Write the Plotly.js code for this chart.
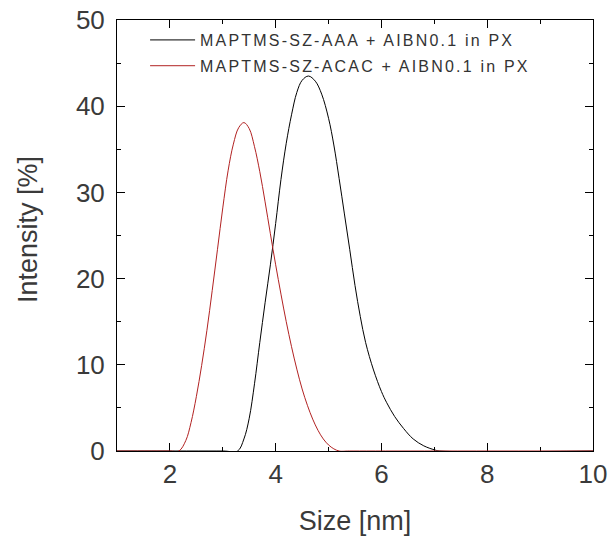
<!DOCTYPE html>
<html><head><meta charset="utf-8">
<script src="https://cdn.plot.ly/plotly-3.0.1.min.js"></script>
<style>body{margin:0;background:#fff}#c{width:611px;height:537px}
#c .legendtext{letter-spacing:2.2px}</style>
</head><body><div id="c"></div>
<script>
const names = ["MAPTMS-SZ-AAA + AIBN0.1 in PX", "MAPTMS-SZ-ACAC + AIBN0.1 in PX"];
const sizeAAA = [1.0, 3.0, 3.28, 3.40, 3.50, 3.60, 3.70, 3.80, 3.90, 4.00, 4.10, 4.20, 4.30, 4.40, 4.50, 4.62, 4.75, 4.87, 5.00, 5.10, 5.20, 5.30, 5.40, 5.50, 5.60, 5.70, 5.85, 6.00, 6.10, 6.25, 6.42, 6.60, 6.80, 7.02, 7.10, 10.0];
const intAAA  = [0.0, 0.0, 0.0, 1.4, 3.8, 7.8, 12.6, 17.2, 21.6, 26.4, 31.5, 35.7, 39.0, 41.6, 43.0, 43.5, 42.9, 41.4, 38.6, 35.5, 31.6, 27.5, 23.4, 19.2, 15.6, 12.6, 9.4, 6.9, 5.6, 4.0, 2.6, 1.4, 0.6, 0.1, 0.0, 0.0];
const sizeACAC = [1.0, 2.0, 2.17, 2.30, 2.40, 2.50, 2.60, 2.70, 2.80, 2.90, 3.00, 3.10, 3.20, 3.30, 3.40, 3.50, 3.60, 3.70, 3.80, 3.90, 4.00, 4.10, 4.20, 4.30, 4.40, 4.50, 4.60, 4.70, 4.80, 4.90, 5.00, 5.10, 5.20, 5.40, 10.0];
const intACAC  = [0.0, 0.0, 0.0, 1.2, 3.3, 6.3, 9.9, 14.0, 18.6, 23.4, 28.2, 32.5, 35.6, 37.5, 38.1, 37.4, 35.3, 32.4, 28.9, 25.2, 21.6, 18.2, 15.0, 12.1, 9.5, 7.2, 5.3, 3.7, 2.4, 1.4, 0.7, 0.25, 0.0, 0.0, 0.0];
const xTicks = [2, 4, 6, 8, 10];
const yTicks = [0, 10, 20, 30, 40, 50];
const xTitle = "Size [nm]";
const yTitle = "Intensity [%]";

const FONT = "Liberation Sans, Arial, sans-serif";
const traces = [
  {x: sizeAAA, y: intAAA, name: names[0], legendgroup: "a", mode: "lines", cliponaxis: false, line: {color: "#000000", width: 1, shape: "spline", smoothing: 1}},
  {x: sizeACAC, y: intACAC, name: names[1], legendgroup: "b", mode: "lines", cliponaxis: false, line: {color: "#b22222", width: 1, shape: "spline", smoothing: 1}}
];
const axCommon = {
  showline: true, linecolor: "#000", linewidth: 1, mirror: "allticks",
  ticks: "inside", ticklen: 8, tickcolor: "#000", tickwidth: 1,
  showgrid: false, zeroline: false, layer: "below traces",
  tickfont: {family: FONT, size: 26, color: "#3a3a3a"}
};
const layout = {
  width: 611, height: 537,
  margin: {l: 117, r: 18, t: 20, b: 86},
  paper_bgcolor: "#fff", plot_bgcolor: "rgba(0,0,0,0)",
  showlegend: true,
  legend: {x: 0.059, y: 0.993, xanchor: "left", yanchor: "top", bgcolor: "rgba(0,0,0,0)",
    font: {family: FONT, size: 16, color: "#333"},
    itemwidth: 45, tracegroupgap: 2, traceorder: "grouped"},
  xaxis: Object.assign({}, axCommon, {range: [1, 10], tickvals: xTicks, ticktext: xTicks.map(String),
    minor: {dtick: 1, tick0: 1, ticks: "inside", ticklen: 4, tickcolor: "#000"},
    title: {text: xTitle, font: {family: FONT, size: 27, color: "#3a3a3a"}, standoff: 22}}),
  yaxis: Object.assign({}, axCommon, {range: [0, 50], tickvals: yTicks, ticktext: yTicks.map(String),
    minor: {dtick: 5, tick0: 0, ticks: "inside", ticklen: 4, tickcolor: "#000"},
    ticklabelstandoff: 6}),
  annotations: [{text: yTitle, xref: "paper", yref: "paper", x: (28 - 117) / 476, y: (451 - 230) / 431,
    xanchor: "center", yanchor: "middle", textangle: -90, showarrow: false,
    font: {family: FONT, size: 27, color: "#3a3a3a"}}]
};
function unclipLegend() {
  document.querySelectorAll("#c .legend [clip-path]").forEach(function (el) { el.removeAttribute("clip-path"); });
}
Plotly.newPlot("c", traces, layout, {displayModeBar: false, staticPlot: true}).then(function (gd) {
  unclipLegend();
  gd.on("plotly_afterplot", unclipLegend);
});
</script></body></html>
